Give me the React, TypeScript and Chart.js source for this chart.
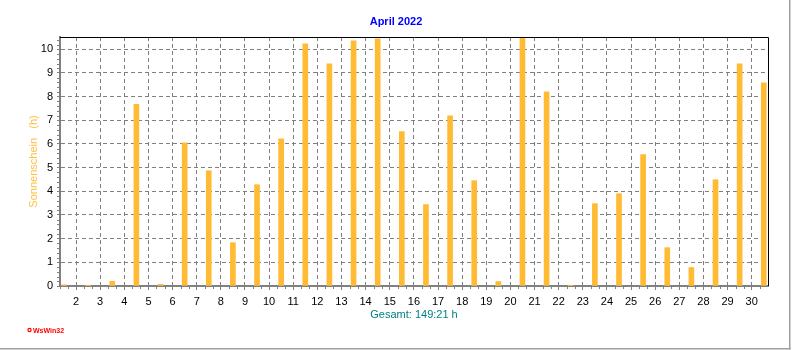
import React, { useEffect, useRef } from "react";
import { Chart, registerables } from "chart.js";

Chart.register(...registerables);

const days = [1, 2, 3, 4, 5, 6, 7, 8, 9, 10, 11, 12, 13, 14, 15, 16, 17, 18, 19, 20, 21, 22, 23, 24, 25, 26, 27, 28, 29, 30];
const sunshineHours = [0.05, 0.03, 0.2, 7.68, 0.07, 6.05, 4.87, 1.83, 4.28, 6.22, 10.23, 9.39, 10.36, 10.44, 6.52, 3.44, 7.19, 4.45, 0.19, 10.6, 8.2, 0.03, 3.48, 3.9, 5.55, 1.62, 0.78, 4.49, 9.39, 8.58];
const xTickValues = [2, 3, 4, 5, 6, 7, 8, 9, 10, 11, 12, 13, 14, 15, 16, 17, 18, 19, 20, 21, 22, 23, 24, 25, 26, 27, 28, 29, 30];
const yTickValues = [0, 1, 2, 3, 4, 5, 6, 7, 8, 9, 10];
const chartTitle = "April 2022";
const yAxisTitle = "Sonnenschein   (h)";
const totalText = "Gesamt: 149:21 h";
const logoText = "WsWin32";

const FONT = "'Liberation Sans', Arial, sans-serif";

const decorPlugin = {
  id: "decor",
  beforeDraw(chart: any) {
    const { ctx, width, height } = chart;
    ctx.save();
    ctx.fillStyle = "#ffffff";
    ctx.fillRect(0, 0, width, height);
    ctx.restore();
  },
  afterDraw(chart: any) {
    const { ctx, chartArea: a, scales } = chart;
    const x = scales.x;
    const y = scales.y;
    ctx.save();
    // top & right border of plot
    ctx.strokeStyle = "#000000";
    ctx.lineWidth = 1;
    ctx.beginPath();
    ctx.moveTo(a.left, a.top + 0.5);
    ctx.lineTo(a.right + 0.5, a.top + 0.5);
    ctx.lineTo(a.right + 0.5, a.bottom);
    ctx.stroke();
    // minor ticks
    ctx.strokeStyle = "#808080";
    ctx.beginPath();
    for (let i = 0; i <= 52; i++) {
      const v = i / 5;
      if (i % 5 === 0) continue;
      const py = Math.round(y.getPixelForValue(v)) + 0.5;
      if (py < a.top) continue;
      ctx.moveTo(a.left - 3, py);
      ctx.lineTo(a.left - 1, py);
    }
    for (let i = 0; i <= 93; i++) {
      const v = 1 + i / 3;
      if (i % 3 === 0) continue;
      const px = Math.round(x.getPixelForValue(v)) + 0.5;
      if (px < a.left || px > a.right) continue;
      ctx.moveTo(px, a.bottom + 1);
      ctx.lineTo(px, a.bottom + 3);
    }
    ctx.stroke();
    // outer frame (right & bottom)
    ctx.fillStyle = "#a0a0a0";
    ctx.fillRect(789, 0, 1.5, 349.5);
    ctx.fillRect(0, 348, 790.5, 1.5);
    // logo
    ctx.fillStyle = "#ff0000";
    ctx.strokeStyle = "#ff0000";
    ctx.beginPath();
    ctx.arc(29.5, 330, 1.6, 0, Math.PI * 2);
    ctx.lineWidth = 1.2;
    ctx.stroke();
    ctx.font = "bold 7px " + FONT;
    ctx.textBaseline = "alphabetic";
    ctx.textAlign = "left";
    ctx.fillText(logoText, 33, 332.5);
    ctx.restore();
  },
};

export default function App() {
  const canvasRef = useRef<HTMLCanvasElement | null>(null);

  useEffect(() => {
    document.body.style.margin = "0";
    const canvas = canvasRef.current;
    if (!canvas) return;
    const chart = new Chart(canvas, {
      type: "bar",
      data: {
        datasets: [
          {
            data: days.map((d, i) => ({ x: d + 0.5, y: sunshineHours[i] })),
            backgroundColor: "#FFBB33",
            borderWidth: 0,
            barThickness: 5,
          },
        ],
      },
      options: {
        responsive: false,
        animation: false,
        devicePixelRatio: 1,
        layout: { padding: 0 },
        plugins: {
          legend: { display: false },
          tooltip: { enabled: false },
          title: {
            display: true,
            text: chartTitle,
            color: "#0000FF",
            font: { family: FONT, size: 11, weight: "bold", lineHeight: 1 },
            padding: { top: 16.5, bottom: 9.5 },
          },
        },
        scales: {
          x: {
            type: "linear",
            offset: false,
            min: 1.335,
            max: 30.675,
            afterBuildTicks: (s: any) => {
              s.ticks = xTickValues.map((v) => ({ value: v }));
            },
            afterFit: (s: any) => {
              s.height = 64;
            },
            grid: { offset: false, color: "#808080", lineWidth: 1, tickLength: 4, tickColor: "#808080" },
            border: { color: "#808080", width: 2, dash: [4, 3] },
            ticks: {
              color: "#000000",
              font: { family: FONT, size: 11 },
              padding: 5,
              maxRotation: 0,
              autoSkip: false,
            },
            title: {
              display: true,
              text: totalText,
              color: "#008080",
              font: { family: FONT, size: 11, lineHeight: 1 },
              padding: { top: 0, bottom: 29.5 },
            },
          },
          y: {
            type: "linear",
            min: 0,
            max: 10.52,
            afterBuildTicks: (s: any) => {
              s.ticks = yTickValues.map((v) => ({ value: v }));
            },
            afterFit: (s: any) => {
              s.width = 60;
            },
            grid: { color: "#808080", lineWidth: 1, tickLength: 3, tickColor: "#808080" },
            border: { color: "#808080", width: 2, dash: [4, 3] },
            ticks: {
              color: "#000000",
              font: { family: FONT, size: 11 },
              padding: 4,
            },
            title: {
              display: true,
              text: yAxisTitle,
              color: "#FFC040",
              font: { family: FONT, size: 11, lineHeight: 1 },
              padding: { top: 28.5, bottom: 0 },
            },
          },
          rightSpace: {
            type: "linear",
            position: "right",
            display: true,
            min: 0,
            max: 1,
            grid: { display: false, drawTicks: false },
            border: { display: false },
            ticks: { display: false },
            afterFit: (s: any) => {
              s.width = 24;
            },
          },
        },
      },
      plugins: [decorPlugin],
    } as any);
    return () => {
      chart.destroy();
    };
  }, []);

  return (
    <div style={{ width: 792, height: 350, position: "relative" }}>
      <canvas ref={canvasRef} width={792} height={350} style={{ display: "block" }} />
    </div>
  );
}
